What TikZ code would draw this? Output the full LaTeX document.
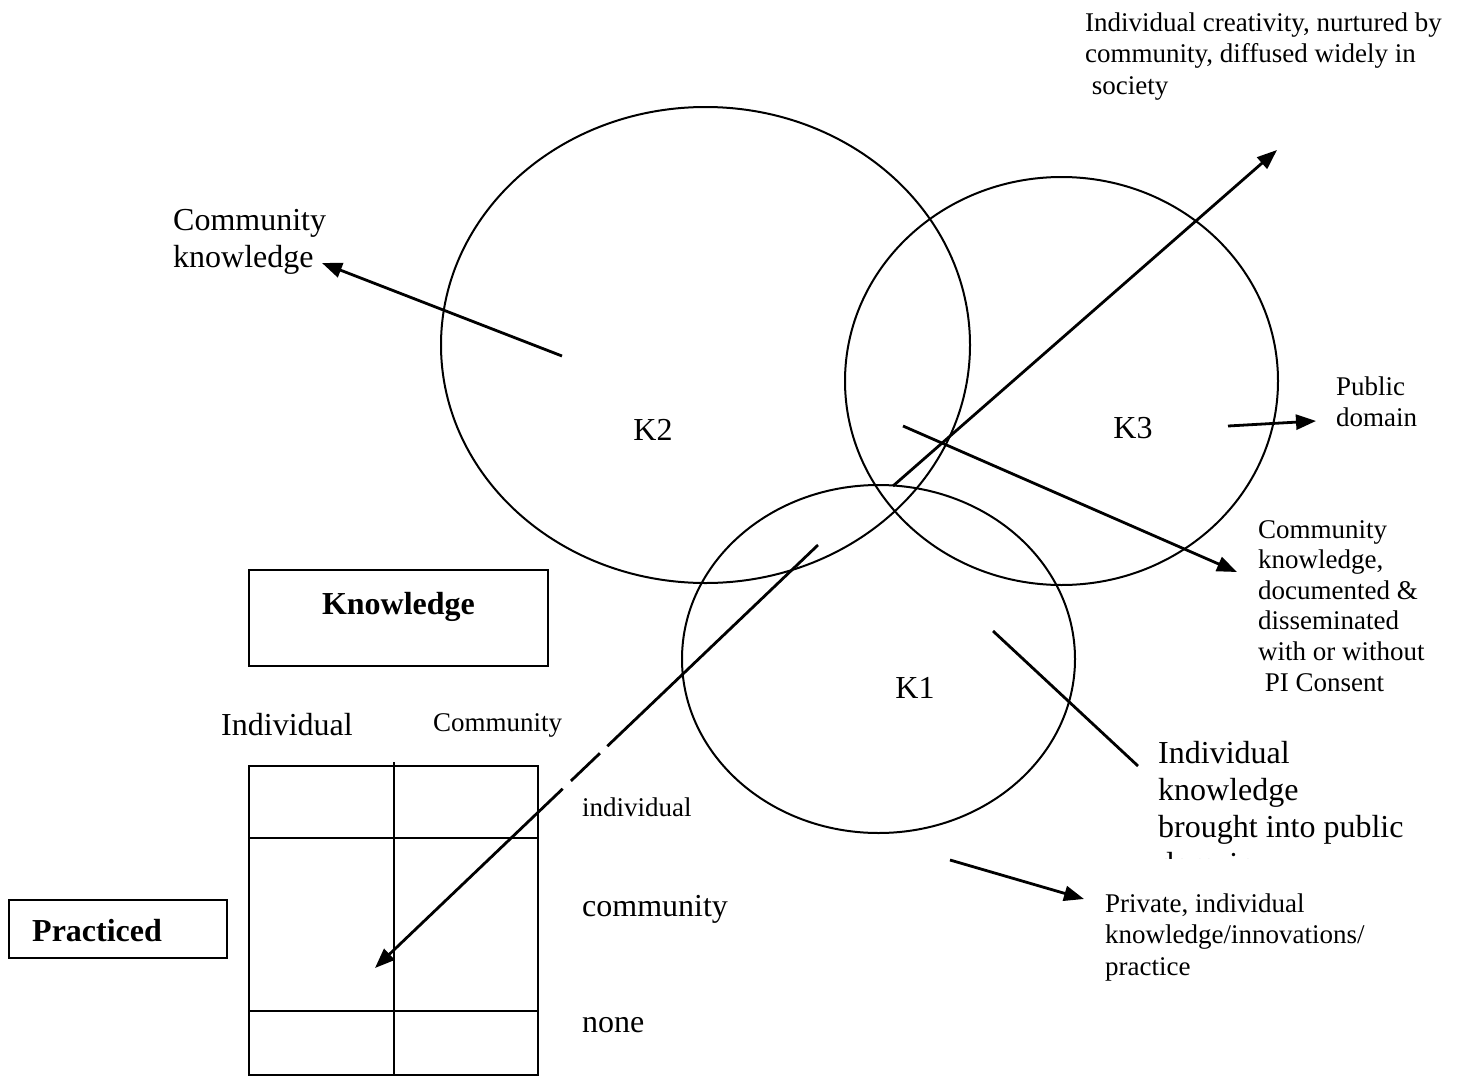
\documentclass[tikz,border=0pt]{standalone}
\usepackage{fontspec}
\setmainfont{Liberation Serif}
\usetikzlibrary{shapes.geometric,arrows.meta,calc}
\begin{document}
\begin{tikzpicture}[x=1pt,y=-1pt,
  circ/.style={draw, ellipse, line width=2pt, inner sep=0pt},
  big/.style={font=\fontsize{32}{37}\selectfont, inner sep=0pt},
  small/.style={font=\fontsize{27}{31.5}\selectfont, inner sep=0pt},
  arr/.style={line width=2.8pt, -{Triangle[length=20pt,width=15pt]}},
  ln/.style={line width=2.8pt},
  boxed/.style={draw, line width=1.9pt, inner sep=0pt},
  gridline/.style={line width=2.1pt}]
\useasboundingbox (0,0) rectangle (1457,1079);

% ellipses
\node[circ, minimum width=529pt, minimum height=476pt] (E2) at (705.5,345) {};
\node[circ, minimum width=433pt, minimum height=408pt] (E3) at (1061.5,381) {};
\node[circ, minimum width=393pt, minimum height=348pt] (E1) at (878.5,659) {};

\node[big] (K2) at (653,430) {K2};
\node[big] (K3) at (1133,428) {K3};
\node[big] (K1) at (915,688) {K1};

% texts (base anchor = baseline of last line)
\node[small, anchor=base west, align=left] (tcre) at (1085,94)
  {Individual creativity, nurtured by\\community, diffused widely in\\\ society};
\node[big, anchor=base west, align=left] (tck) at (173,267)
  {Community\\knowledge};
\node[small, anchor=base west, align=left] (tpd) at (1336,426.5)
  {Public\\domain};
\node[anchor=base west, align=left, inner sep=0pt, font=\fontsize{27}{30.6}\selectfont] (tdoc) at (1258,691)
  {Community\\knowledge,\\documented \&\\disseminated\\with or without\\\ PI Consent};
\begin{scope}
  \clip (1100,700) rectangle (1420,858);
  \node[big, anchor=base west, align=left] (tind) at (1158,874)
    {Individual\\knowledge\\brought into public\\domain};
\end{scope}
\node[small, anchor=base west, align=left] (tpriv) at (1105,975)
  {Private, individual\\knowledge/innovations/\\practice};

% boxes
\node[boxed, minimum width=299pt, text height=44pt, text depth=52pt,
  font=\fontsize{32}{37}\selectfont\bfseries, anchor=base] (know) at (398.5,614) {Knowledge};
\draw[boxed] (9,900) rectangle (227,958);
\node[inner sep=0pt, anchor=base west, font=\fontsize{32}{37}\selectfont\bfseries] (prac) at (32,941) {Practiced};

% table
\node[big, anchor=base west] (hind) at (221,735) {Individual};
\node[small, anchor=base west] (hcom) at (433,731) {Community};
\draw[gridline] (249,766) rectangle (538,1075);
\draw[gridline] (249,838) -- (538,838);
\draw[gridline] (249,1011) -- (538,1011);
\draw[gridline] (394,762) -- (394,1075);
\node[small, anchor=base west] (rind) at (582,816) {individual};
\node[big, anchor=base west] (rcom) at (582,916) {community};
\node[big, anchor=base west] (rnone) at (582,1032) {none};

% connectors
\coordinate (a1s) at (562,356); \coordinate (a1e) at (322,263);
\coordinate (a2s) at (893,486); \coordinate (a2e) at (1277,150);
\coordinate (a3s) at (903,426); \coordinate (a3e) at (1237,572);
\coordinate (a4s) at (1228,426); \coordinate (a4e) at (1316,421);
\coordinate (a5s) at (993,631); \coordinate (a5e) at (1138,766);
\coordinate (a6s) at (950,860); \coordinate (a6e) at (1084,899);
\coordinate (a7s) at (818,545); \coordinate (a7e) at (375,968);

\draw[arr] (a1s) -- (a1e);
\draw[arr] (a2s) -- (a2e);
\draw[arr] (a3s) -- (a3e);
\draw[arr] (a4s) -- (a4e);
\draw[ln] (a5s) -- (a5e);
\draw[arr] (a6s) -- (a6e);
\draw[arr] (a7s) -- (a7e);
\draw[white, line width=5pt] ($(a7s)!0.476!(a7e)$) -- ($(a7s)!0.492!(a7e)$);
\draw[white, line width=5pt] ($(a7s)!0.558!(a7e)$) -- ($(a7s)!0.576!(a7e)$);
\end{tikzpicture}
\end{document}
